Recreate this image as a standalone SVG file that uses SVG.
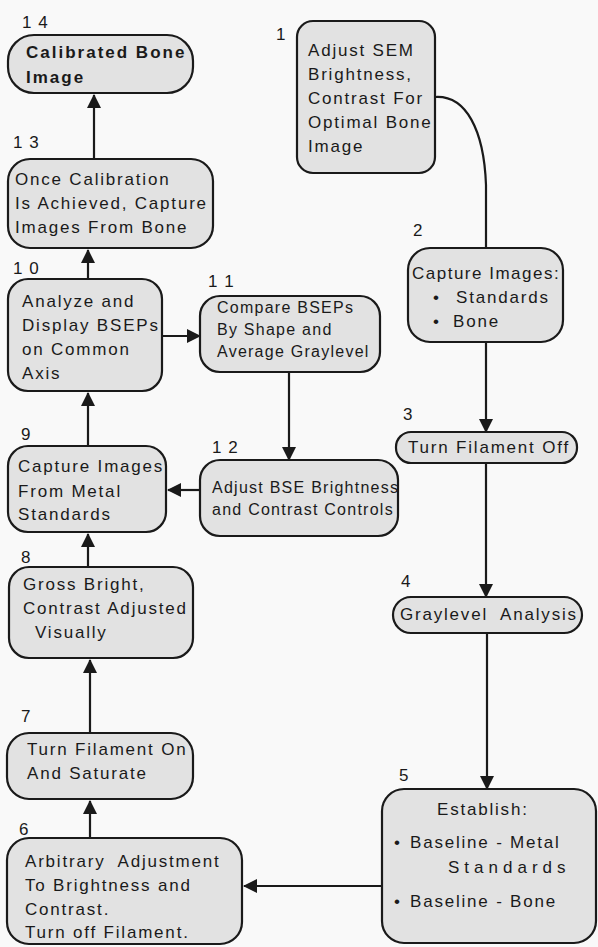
<svg xmlns="http://www.w3.org/2000/svg" width="598" height="947" viewBox="0 0 598 947">
<defs>
<marker id="ah" viewBox="0 0 14 14" refX="13" refY="7" markerWidth="14" markerHeight="14" markerUnits="userSpaceOnUse" orient="auto">
<path d="M0,0 L14,7 L0,14 Z" fill="#1a1a1a"/>
</marker>
</defs>
<style>
.box{fill:#e2e2e2;stroke:#1a1a1a;stroke-width:2.2}
text{font-family:"Liberation Sans",Arial,sans-serif;font-size:17px;fill:#1a1a1a;letter-spacing:1.8px;white-space:pre}
.s{font-size:16px;letter-spacing:1.25px}
.num{font-size:17px;letter-spacing:1px}
.b{font-weight:bold;letter-spacing:2px}
.c{fill:none;stroke:#1a1a1a;stroke-width:2.2}
</style>
<rect width="598" height="947" fill="#f9f9f9"/>
<g id="connectors">
<path class="c" d="M94,159 L94,95" marker-end="url(#ah)"/>
<path class="c" d="M435,97 C466,95 484,130 486,185 L486,249"/>
<path class="c" d="M486,342 L486,432" marker-end="url(#ah)"/>
<path class="c" d="M486,463 L486,597" marker-end="url(#ah)"/>
<path class="c" d="M487,633 L487,789" marker-end="url(#ah)"/>
<path class="c" d="M382,886 L244,886" marker-end="url(#ah)"/>
<path class="c" d="M90,838 L90,801" marker-end="url(#ah)"/>
<path class="c" d="M90,733 L90,660" marker-end="url(#ah)"/>
<path class="c" d="M88,567 L88,534" marker-end="url(#ah)"/>
<path class="c" d="M88,446 L88,393" marker-end="url(#ah)"/>
<path class="c" d="M88,279 L88,250" marker-end="url(#ah)"/>
<path class="c" d="M162,336 L200,336" marker-end="url(#ah)"/>
<path class="c" d="M289,372 L289,460" marker-end="url(#ah)"/>
<path class="c" d="M200,490 L168,490" marker-end="url(#ah)"/>
</g>
<g id="n1">
<text class="num" x="276" y="40">1</text>
<rect class="box" x="297" y="21" width="138" height="152" rx="16"/>
<text x="308" y="56">Adjust SEM</text>
<text x="308" y="80">Brightness,</text>
<text x="308" y="104">Contrast For</text>
<text x="308" y="128">Optimal Bone</text>
<text x="308" y="152">Image</text>
</g>
<g id="n2">
<text class="num" x="413" y="236">2</text>
<rect class="box" x="408" y="248" width="155" height="94" rx="22"/>
<text x="412" y="279" style="letter-spacing:1.5px">Capture Images:</text>
<text x="433" y="303">•</text><text x="456" y="303">Standards</text>
<text x="433" y="327">•</text><text x="453" y="327">Bone</text>
</g>
<g id="n3">
<text class="num" x="403" y="420">3</text>
<rect class="box" x="396" y="432" width="181" height="31" rx="15"/>
<text x="408" y="453">Turn Filament Off</text>
</g>
<g id="n4">
<text class="num" x="401" y="587">4</text>
<rect class="box" x="393" y="597" width="189" height="36" rx="18"/>
<text x="400" y="620" xml:space="preserve">Graylevel  Analysis</text>
</g>
<g id="n5">
<text class="num" x="399" y="781">5</text>
<rect class="box" x="382" y="789" width="214" height="154" rx="22"/>
<text x="437" y="815">Establish:</text>
<text x="394" y="848">•</text><text x="410" y="848">Baseline - Metal</text>
<text x="448" y="873" style="letter-spacing:5px">Standards</text>
<text x="394" y="907">•</text><text x="410" y="907">Baseline - Bone</text>
</g>
<g id="n6">
<text class="num" x="19" y="835">6</text>
<rect class="box" x="7" y="838" width="235" height="106" rx="22"/>
<text x="25" y="867" xml:space="preserve">Arbitrary  Adjustment</text>
<text x="25" y="891">To Brightness and</text>
<text x="25" y="915">Contrast.</text>
<text x="25" y="938">Turn off Filament.</text>
</g>
<g id="n7">
<text class="num" x="21" y="722">7</text>
<rect class="box" x="7" y="733" width="186" height="66" rx="22"/>
<text x="27" y="755">Turn Filament On</text>
<text x="27" y="779">And Saturate</text>
</g>
<g id="n8">
<text class="num" x="21" y="563">8</text>
<rect class="box" x="9" y="567" width="184" height="91" rx="20"/>
<text x="23" y="590">Gross Bright,</text>
<text x="23" y="614">Contrast Adjusted</text>
<text x="35" y="638">Visually</text>
</g>
<g id="n9">
<text class="num" x="21" y="440">9</text>
<rect class="box" x="8" y="446" width="158" height="86" rx="20"/>
<text x="18" y="472">Capture Images</text>
<text x="18" y="497">From Metal</text>
<text x="18" y="520">Standards</text>
</g>
<g id="n10">
<text class="num" x="13" y="274">1 0</text>
<rect class="box" x="8" y="279" width="154" height="112" rx="20"/>
<text x="22" y="307">Analyze and</text>
<text x="22" y="331">Display BSEPs</text>
<text x="22" y="355">on Common</text>
<text x="22" y="379">Axis</text>
</g>
<g id="n11">
<text class="num" x="208" y="287">1 1</text>
<rect class="box" x="200" y="296" width="180" height="76" rx="20"/>
<text class="s" x="217" y="313">Compare BSEPs</text>
<text class="s" x="217" y="335">By Shape and</text>
<text class="s" x="217" y="357">Average Graylevel</text>
</g>
<g id="n12">
<text class="num" x="212" y="453">1 2</text>
<rect class="box" x="200" y="460" width="198" height="76" rx="20"/>
<text class="s" x="212" y="493">Adjust BSE Brightness</text>
<text class="s" x="212" y="515">and Contrast Controls</text>
</g>
<g id="n13">
<text class="num" x="13" y="148">1 3</text>
<rect class="box" x="8" y="159" width="205" height="89" rx="22"/>
<text x="15" y="185">Once Calibration</text>
<text x="15" y="209">Is Achieved, Capture</text>
<text x="15" y="233">Images From Bone</text>
</g>
<g id="n14">
<text class="num" x="22" y="28">1 4</text>
<rect class="box" x="8" y="35" width="185" height="58" rx="26"/>
<text class="b" x="26" y="58">Calibrated Bone</text>
<text class="b" x="26" y="83">Image</text>
</g>
</svg>
